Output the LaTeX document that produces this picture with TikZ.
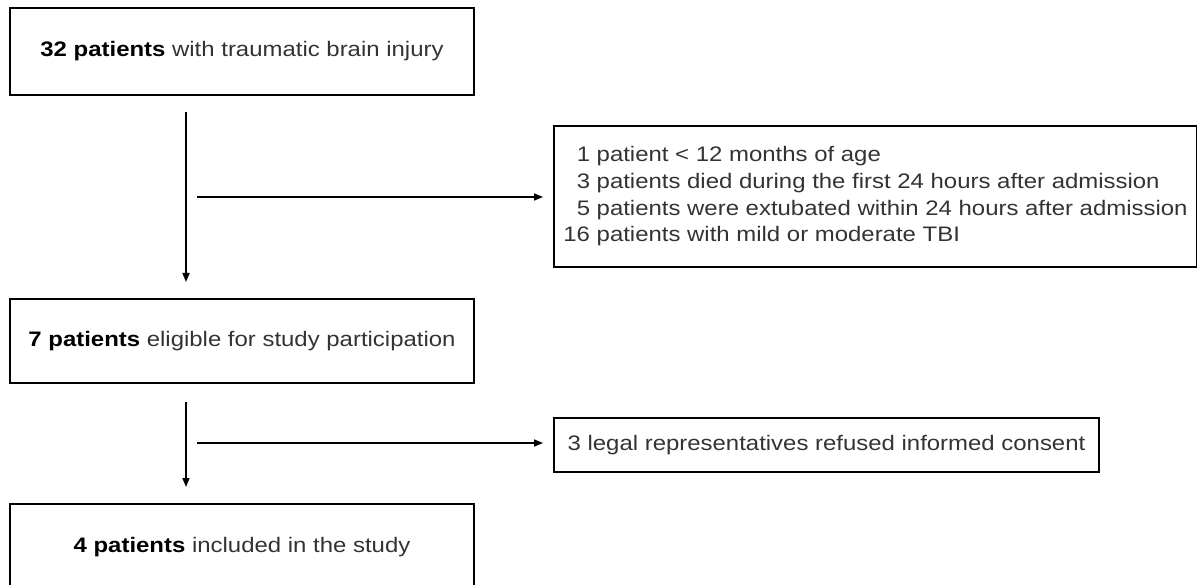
\documentclass[tikz,border=0pt]{standalone}
\usepackage{fontspec}
\setmainfont{Liberation Sans}[FakeStretch=1.14]
\usetikzlibrary{arrows.meta}

\tikzset{
  stagebox/.style={draw, line width=2pt, minimum width=464pt, minimum height=87pt, inner sep=0pt, text=black!80},
  exclbox/.style={draw, line width=2pt, anchor=north west, inner sep=0pt, text=black!80},
  flowarrow/.style={line width=1.6pt, -{Triangle[length=9pt,width=7pt]}},
}
\newcommand{\countlabel}[1]{\textcolor{black}{\textbf{#1}}}

\begin{document}
\begin{tikzpicture}[x=1pt,y=-1pt,font=\fontsize{21}{26.7}\selectfont]
    \useasboundingbox (0,0) rectangle (1197,585);
    \clip (0,0) rectangle (1197,585);
    % stages of the flow
    \node[stagebox] (total) at (242,51.5) {\countlabel{32 patients} with traumatic brain injury};
    \node[stagebox, minimum height=84pt] (eligible) at (242,341) {\countlabel{7 patients} eligible for study participation};
    \node[stagebox, minimum height=86pt] (included) at (242,547) {\countlabel{4 patients} included in the study};
    % excluded patients
    \node[exclbox, minimum width=643pt, minimum height=141pt, align=left] (exclusions) at (553,125)
        {\phantom{1}1 patient < 12 months of age\\
         \phantom{1}3 patients died during the first 24 hours after admission\\
         \phantom{1}5 patients were extubated within 24 hours after admission\\
         16 patients with mild or moderate TBI};
    \node[exclbox, minimum width=545pt, minimum height=54pt] (refused) at (553,417)
        {3 legal representatives refused informed consent};
    % arrows
    \coordinate (trunkA) at (186,112);
    \coordinate (trunkB) at (186,402);
    \coordinate (branchA) at (197,197);
    \coordinate (branchB) at (197,443);
    \draw[flowarrow, shorten >=16pt] (trunkA) -- (trunkA |- eligible.north);
    \draw[flowarrow, shorten >=16pt] (trunkB) -- (trunkB |- included.north);
    \draw[flowarrow, shorten >=10pt] (branchA) -- (branchA -| exclusions.west);
    \draw[flowarrow, shorten >=10pt] (branchB) -- (branchB -| refused.west);
\end{tikzpicture}
\end{document}
